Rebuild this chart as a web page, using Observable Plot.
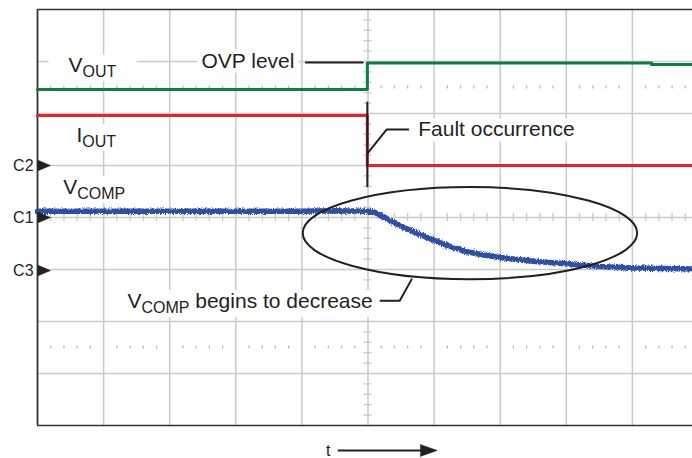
<!DOCTYPE html>
<html><head><meta charset="utf-8">
<script src="https://cdn.jsdelivr.net/npm/d3@7"></script>
<script src="https://cdn.jsdelivr.net/npm/@observablehq/plot@0.6"></script>
<style>
html,body{margin:0;padding:0;background:#fff;overflow:hidden;}
</style></head><body>
<script>
// All values in oscilloscope divisions (x: 10 horizontal divisions, y: 8 vertical divisions)
const gridX = [1, 2, 3, 4, 5, 6, 7, 8, 9];
const gridY = [1, 2, 3, 4, 5, 6, 7];
const minorStep = 0.2;

// V_OUT trace (green)
const voutT = [0, 4.99, 4.99, 9.29, 9.29, 10];
const voutV = [6.46, 6.46, 6.97, 6.97, 6.94, 6.94];
// I_OUT trace (red)
const ioutT = [0, 4.99, 4.99, 10];
const ioutV = [5.96, 5.96, 5.0, 5.0];
// V_COMP trace (blue)
const vcompT = [0, 1, 2, 3, 4, 4.5, 5.0, 5.1, 5.25, 5.5, 5.75, 6.0, 6.25, 6.5, 6.75, 7.0, 7.5, 8.0, 8.5, 9.0, 9.5, 10];
const vcompV = [4.12, 4.12, 4.12, 4.12, 4.12, 4.13, 4.12, 4.10, 4.0, 3.83, 3.69, 3.56, 3.44, 3.34, 3.28, 3.23, 3.16, 3.11, 3.06, 3.03, 3.02, 3.01];

// channel markers
const channelNames = ["C2", "C1", "C3"];
const channelLevels = [5.0, 4.0, 2.98];

// annotation labels
const labelText = ["V_{OUT}", "I_{OUT}", "V_{COMP}", "OVP level", "Fault occurrence", "V_{COMP} begins to decrease"];
const labelX = [0.47, 0.59, 0.39, 2.48, 5.76, 1.36];
const labelY = [6.92, 5.58, 4.58, 7.01, 5.69, 2.39];
const labelPad = [20, 8, 4, 4, 8, 6];

// annotation leader lines
const leaderId = ["ovp", "ovp", "mark", "mark", "fault", "fault", "fault", "vc", "vc", "vc"];
const leaderX = [4.06, 4.92, 4.99, 4.99, 4.99, 5.28, 5.61, 5.66, 5.48, 5.19];
const leaderY = [6.98, 6.98, 6.21, 4.60, 5.23, 5.69, 5.69, 2.81, 2.40, 2.40];

// ellipse around the V_COMP decrease
const ellipseCx = 6.55, ellipseCy = 3.69, ellipseRx = 2.53, ellipseRy = 0.885;

// time arrow
const tLabel = "t", tLabelX = 4.40, tY = -0.48, tArrowX1 = 4.55, tArrowX2 = 5.81;

const minorX = d3.range(minorStep, 10 - 1e-9, minorStep).filter(v => Math.abs(v - Math.round(v)) > 1e-6);
const minorY = d3.range(minorStep, 8 - 1e-9, minorStep).filter(v => Math.abs(v - Math.round(v)) > 1e-6);

const vout = voutT.map((t, i) => ({t, v: voutV[i]}));
const iout = ioutT.map((t, i) => ({t, v: ioutV[i]}));
const vcomp = vcompT.map((t, i) => ({t, v: vcompV[i]}));
const channels = channelNames.map((n, i) => ({n, v: channelLevels[i]}));
const labels = labelText.map((s, i) => ({s, x: labelX[i], y: labelY[i], pad: labelPad[i]}));
const leaders = leaderId.map((id, i) => ({id, x: leaderX[i], y: leaderY[i]}));

const GRID = "#c9c9c9", FRAME = "#333", INK = "#231f20";
const tx = 4 / 66.1, ty = 4 / 52;

const ellipseMark = (index, scales) => {
  const ns = "http://www.w3.org/2000/svg";
  const g = document.createElementNS(ns, "g");
  const e = document.createElementNS(ns, "ellipse");
  const cx = scales.x(ellipseCx), cy = scales.y(ellipseCy);
  e.setAttribute("cx", cx);
  e.setAttribute("cy", cy);
  e.setAttribute("rx", scales.x(ellipseCx + ellipseRx) - cx);
  e.setAttribute("ry", cy - scales.y(ellipseCy + ellipseRy));
  e.setAttribute("fill", "none");
  e.setAttribute("stroke", INK);
  e.setAttribute("stroke-width", 2);
  g.appendChild(e);
  return g;
};

const chart = Plot.plot({
  width: 692,
  height: 458,
  marginLeft: 37, marginTop: 9, marginBottom: 33, marginRight: 0,
  x: {domain: [0, 10], range: [37, 698], axis: null},
  y: {domain: [0, 8], range: [425, 9], axis: null},
  style: {fontFamily: "'Liberation Sans', Arial, Helvetica, sans-serif", background: "white", color: INK},
  marks: [
    Plot.ruleX(gridX, {y1: 0, y2: 8, stroke: GRID, strokeWidth: 1.5}),
    Plot.ruleY(gridY, {x1: 0, x2: 10, stroke: GRID, strokeWidth: 1.5}),
    Plot.ruleX(minorX, {y1: 4 - ty, y2: 4 + ty, stroke: GRID, strokeWidth: 1.3}),
    Plot.ruleY(minorY, {x1: 5 - tx, x2: 5 + tx, stroke: GRID, strokeWidth: 1.3}),
    Plot.ruleX(minorX, {y1: 6.5 - 0.03, y2: 6.5 + 0.03, stroke: "#bbb", strokeWidth: 1.3}),
    Plot.ruleX(minorX, {y1: 1.5 - 0.03, y2: 1.5 + 0.03, stroke: "#bbb", strokeWidth: 1.3}),
    Plot.ruleX([0], {y1: 0, y2: 8, stroke: FRAME, strokeWidth: 1.8}),
    Plot.ruleY([0, 8], {x1: 0, x2: 10, stroke: FRAME, strokeWidth: 1.6}),
    Plot.line(vout, {x: "t", y: "v", stroke: "#0b7f3b", strokeWidth: 3, ariaDescription: "vout"}),
    Plot.line(iout, {x: "t", y: "v", stroke: "#e8212a", strokeWidth: 3, ariaDescription: "iout"}),
    Plot.line(vcomp, {x: "t", y: "v", stroke: "#2f4fa6", strokeWidth: 5.5, ariaDescription: "vcomp"}),
    ellipseMark,
    Plot.line(leaders, {x: "x", y: "y", z: "id", stroke: INK, strokeWidth: 2}),
    Plot.vector(channels, {x: 0, y: "v", length: 13, r: 5.5, rotate: 90, shape: "spike", anchor: "start", fill: INK, stroke: INK, strokeWidth: 0.5}),
    Plot.text(channels, {x: -0.06, y: "v", text: "n", textAnchor: "end", fontSize: 16, fill: INK}),
    Plot.ruleY([tY], {x1: tArrowX1, x2: tArrowX2, stroke: INK, strokeWidth: 2}),
    Plot.vector([tY], {x: tArrowX2 - 0.02, y: d => d, length: 17, r: 6, rotate: 90, shape: "spike", anchor: "start", fill: INK, stroke: INK, strokeWidth: 0.5}),
    Plot.text([tLabel], {x: tLabelX, y: tY, text: d => d, fontSize: 16, fill: INK}),
    Plot.text(labels, {x: "x", y: "y", text: "s", textAnchor: "start", fontSize: 21, fill: INK, ariaDescription: "labels"})
  ]
});
document.body.appendChild(chart);

const svgNode = chart.tagName.toLowerCase() === "svg" ? chart : chart.querySelector("svg");
const svg = d3.select(svgNode);
const labelG = svg.select('g[aria-description="labels"]');
if (!labelG.empty()) {
  // subscripts
  labelG.selectAll("text").each(function() {
    const t = d3.select(this);
    const s = this.textContent;
    const m = s.match(/^(.*?)_\{(.*?)\}(.*)$/);
    if (!m) return;
    t.text(null);
    t.append("tspan").text(m[1]);
    t.append("tspan").attr("font-size", 16).attr("dy", 5).text(m[2]);
    if (m[3]) t.append("tspan").attr("dy", -5).text(m[3]);
  });
  // white label boxes hiding the graticule
  const before = svg.select('g[aria-description="vout"]');
  const boxG = before.empty() ? svg.append("g") : svg.insert("g", 'g[aria-description="vout"]');
  const tr = labelG.attr("transform");
  if (tr) boxG.attr("transform", tr);
  labelG.selectAll("text").each(function(_, i) {
    const bb = this.getBBox();
    const px = labels[i].pad;
    const r = boxG.append("rect").attr("x", bb.x - px).attr("y", bb.y + 1).attr("width", bb.width + 2 * px).attr("height", bb.height).attr("fill", "white");
    const ttr = this.getAttribute("transform");
    if (ttr) r.attr("transform", ttr);
  });
}
// trace texture
const defs = svg.insert("defs", ":first-child");
const f = defs.append("filter").attr("id", "scopeNoise").attr("x", "-2%").attr("y", "-30%").attr("width", "104%").attr("height", "160%");
f.append("feTurbulence").attr("type", "fractalNoise").attr("baseFrequency", "1.2 0.5").attr("numOctaves", 2).attr("seed", 4).attr("result", "n");
f.append("feDisplacementMap").attr("in", "SourceGraphic").attr("in2", "n").attr("scale", 4).attr("xChannelSelector", "R").attr("yChannelSelector", "G");
svg.select('g[aria-description="vcomp"]').attr("filter", "url(#scopeNoise)");
</script>
</body></html>
